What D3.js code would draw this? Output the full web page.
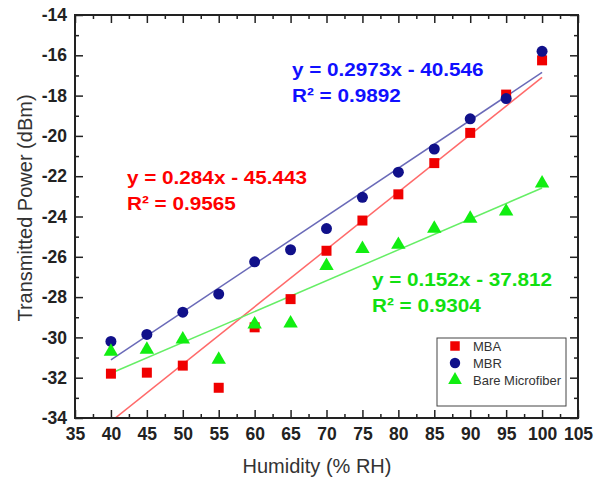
<!DOCTYPE html>
<html>
<head>
    <script src="https://cdn.jsdelivr.net/npm/d3@7"></script>
    <style>
        body { margin: 0; background: #fff; }
        svg { display: block; font-family: "Liberation Sans", Arial, sans-serif; }
    </style>
</head>
<body>
    <svg width="602" height="479"></svg>
    <script>
        // data
        const humidity = [40, 45, 50, 55, 60, 65, 70, 75, 80, 85, 90, 95, 100]
        const mba = [-31.8, -31.75, -31.4, -32.5, -29.5, -28.1, -25.7, -24.2, -22.9, -21.35, -19.85, -17.95, -16.25]
        const mbr = [-30.2, -29.85, -28.75, -27.85, -26.25, -25.65, -24.6, -23.05, -21.8, -20.65, -19.15, -18.15, -15.8]
        const bare = [-30.7, -30.6, -30.1, -31.1, -29.35, -29.3, -26.45, -25.6, -25.4, -24.6, -24.1, -23.75, -22.35]
        const seriesNames = ['MBA', 'MBR', 'Bare Microfiber']
        const xTicks = [35, 40, 45, 50, 55, 60, 65, 70, 75, 80, 85, 90, 95, 100, 105]
        const yTicks = [-34, -32, -30, -28, -26, -24, -22, -20, -18, -16, -14]
        const eqLines = ['y = 0.284x - 45.443', 'y = 0.2973x - 40.546', 'y = 0.152x - 37.812']
        const r2Lines = ['R² = 0.9565', 'R² = 0.9892', 'R² = 0.9304']

        const svg = d3.select('svg')
        const mLeft = 75, mRight = 578, mTop = 15, mBottom = 418
        const x = d3.scaleLinear().domain([35, 105]).range([mLeft, mRight])
        const y = d3.scaleLinear().domain([-34, -14]).range([mBottom, mTop])

        const AXIS = '#222'
        const series = [
            { name: seriesNames[0], values: mba, color: '#f00000', line: '#ff6a6a', text: '#ff0000', shape: d3.symbolSquare, size: 100 },
            { name: seriesNames[1], values: mbr, color: '#10108a', line: '#6a6ab8', text: '#1010ff', shape: d3.symbolCircle, size: 95 },
            { name: seriesNames[2], values: bare, color: '#11ee11', line: '#66ee66', text: '#11e011', shape: d3.symbolTriangle, size: 90 }
        ]

        // least squares fit for trendlines
        function fit (xs, ys) {
            const mx = d3.mean(xs), my = d3.mean(ys)
            const sxy = d3.sum(xs, (v, i) => (v - mx) * (ys[i] - my))
            const sxx = d3.sum(xs, v => (v - mx) * (v - mx))
            const m = sxy / sxx
            return { m, b: my - m * mx }
        }

        svg.append('clipPath').attr('id', 'plot-clip')
            .append('rect').attr('x', mLeft).attr('y', mTop).attr('width', mRight - mLeft).attr('height', mBottom - mTop)

        // trendlines
        const trend = svg.append('g').attr('clip-path', 'url(#plot-clip)')
        series.forEach(s => {
            const f = fit(humidity, s.values)
            const x0 = d3.min(humidity), x1 = d3.max(humidity)
            trend.append('line')
                .attr('x1', x(x0)).attr('y1', y(f.m * x0 + f.b))
                .attr('x2', x(x1)).attr('y2', y(f.m * x1 + f.b))
                .attr('stroke', s.line)
                .attr('stroke-width', 1.5)
        })

        // markers
        series.forEach(s => {
            svg.append('g').selectAll('path')
                .data(s.values)
                .join('path')
                .attr('transform', (d, i) => `translate(${x(humidity[i])},${y(d)})`)
                .attr('d', d3.symbol().type(s.shape).size(s.size))
                .attr('fill', s.color)
        })

        // axes: ticks pointing inward on all four sides
        const fmt = d => String(d)   // plain hyphen minus, like the original
        const minorX = d3.range(37.5, 105, 5)
        const minorY = d3.range(-33, -14, 2)
        function styleAxis (g) {
            g.select('.domain').remove()
            g.selectAll('line').attr('stroke', AXIS).attr('stroke-width', 1.5)
        }
        function styleLabels (g) {
            g.selectAll('text').attr('font-size', 17.5).attr('font-weight', 'bold').attr('fill', AXIS)
                .attr('font-family', 'Liberation Sans, Arial')
        }
        svg.append('g').attr('transform', `translate(0,${mBottom})`)
            .call(d3.axisBottom(x).tickValues(xTicks).tickFormat(fmt).tickSizeInner(-8).tickPadding(10))
            .call(styleAxis).call(styleLabels)
        svg.append('g').attr('transform', `translate(0,${mBottom})`)
            .call(d3.axisBottom(x).tickValues(minorX).tickFormat('').tickSizeInner(-4))
            .call(styleAxis)
        svg.append('g').attr('transform', `translate(0,${mTop})`)
            .call(d3.axisTop(x).tickValues(xTicks).tickFormat('').tickSizeInner(-8))
            .call(styleAxis)
        svg.append('g').attr('transform', `translate(0,${mTop})`)
            .call(d3.axisTop(x).tickValues(minorX).tickFormat('').tickSizeInner(-4))
            .call(styleAxis)
        svg.append('g').attr('transform', `translate(${mLeft},0)`)
            .call(d3.axisLeft(y).tickValues(yTicks).tickFormat(fmt).tickSizeInner(-8).tickPadding(8))
            .call(styleAxis).call(styleLabels)
        svg.append('g').attr('transform', `translate(${mLeft},0)`)
            .call(d3.axisLeft(y).tickValues(minorY).tickFormat('').tickSizeInner(-4))
            .call(styleAxis)
        svg.append('g').attr('transform', `translate(${mRight},0)`)
            .call(d3.axisRight(y).tickValues(yTicks).tickFormat('').tickSizeInner(-8))
            .call(styleAxis)
        svg.append('g').attr('transform', `translate(${mRight},0)`)
            .call(d3.axisRight(y).tickValues(minorY).tickFormat('').tickSizeInner(-4))
            .call(styleAxis)

        svg.append('rect')
            .attr('x', mLeft).attr('y', mTop).attr('width', mRight - mLeft).attr('height', mBottom - mTop)
            .attr('fill', 'none').attr('stroke', AXIS).attr('stroke-width', 2)

        // axis titles
        svg.append('text')
            .attr('x', 317).attr('y', 473)
            .attr('text-anchor', 'middle')
            .attr('font-size', 20)
            .attr('fill', '#333')
            .text('Humidity (% RH)')
        svg.append('text')
            .attr('transform', 'translate(32,208) rotate(-90)')
            .attr('text-anchor', 'middle')
            .attr('font-size', 20)
            .attr('fill', '#333')
            .text('Transmitted Power (dBm)')

        // regression equations
        const eqPos = [[127, 184], [292, 76], [372, 286]]
        series.forEach((s, i) => {
            const t = svg.append('g')
                .attr('transform', `translate(${eqPos[i][0]},${eqPos[i][1]}) scale(1.09,1)`)
                .attr('font-size', 19).attr('font-weight', 'bold').attr('fill', s.text)
            t.append('text').attr('x', 0).attr('y', 0).text(eqLines[i])
            t.append('text').attr('x', 0).attr('y', 26).text(r2Lines[i])
        })

        // legend
        const legend = svg.append('g')
        legend.append('rect')
            .attr('x', 437).attr('y', 338).attr('width', 129).attr('height', 68)
            .attr('fill', '#fff').attr('stroke', '#444').attr('stroke-width', 1)
        series.forEach((s, i) => {
            const ly = 346 + i * 17
            legend.append('path')
                .attr('transform', `translate(455,${ly})`)
                .attr('d', d3.symbol().type(s.shape).size(s.size * 0.9))
                .attr('fill', s.color)
            legend.append('text')
                .attr('x', 473).attr('y', ly + 4.5)
                .attr('font-size', 13)
                .attr('fill', '#333')
                .text(s.name)
        })
    </script>
</body>
</html>
